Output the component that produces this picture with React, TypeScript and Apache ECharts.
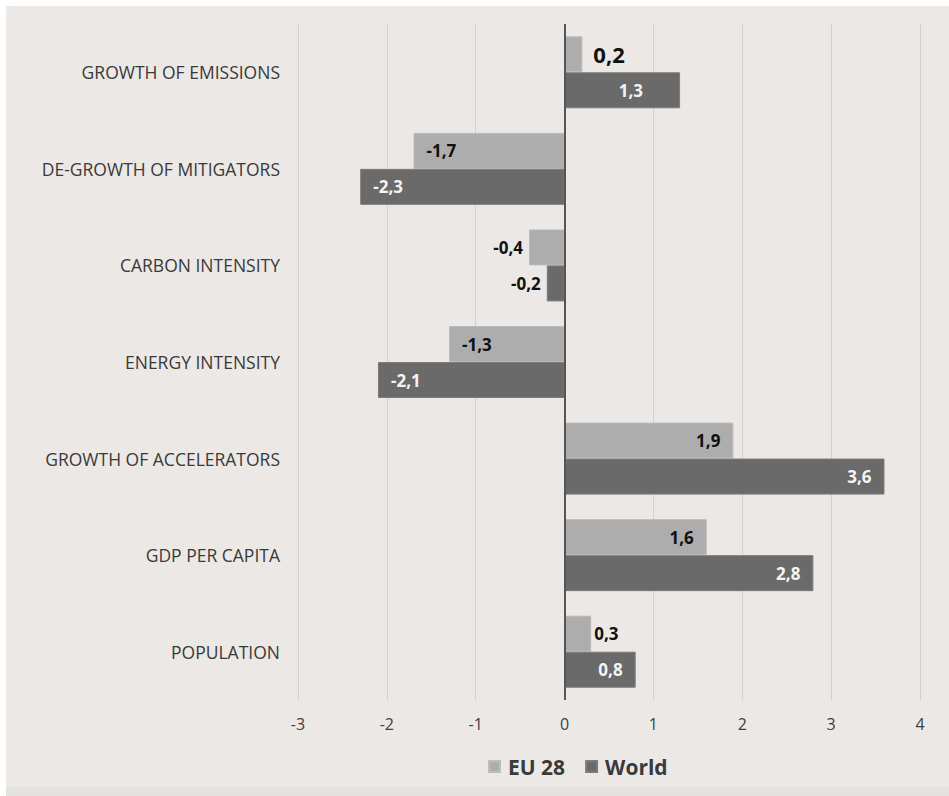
import React, { useEffect, useRef } from "react";
import * as echarts from "echarts";

const categories = [
  "GROWTH OF EMISSIONS",
  "DE-GROWTH OF MITIGATORS",
  "CARBON INTENSITY",
  "ENERGY INTENSITY",
  "GROWTH OF ACCELERATORS",
  "GDP PER CAPITA",
  "POPULATION",
];
const eu28 = [0.2, -1.7, -0.4, -1.3, 1.9, 1.6, 0.3];
const world = [1.3, -2.3, -0.2, -2.1, 3.6, 2.8, 0.8];
const seriesNames = ["EU 28", "World"];

const EU_COLOR = "#adadad";
const WORLD_COLOR = "#6a6a6a";
const FONT = "'Open Sans', sans-serif";

const fmt = (v: number) => String(v).replace(".", ",");

function buildData(values: number[], insideColor: string, isEU: boolean) {
  return values.map((v, i) => {
    const inside = Math.abs(v) >= 0.6;
    const neg = v < 0;
    const position = inside ? (neg ? "insideLeft" : "insideRight") : neg ? "left" : "right";
    let distance = inside ? 13 : 6;
    let fontSize = 17;
    if (isEU && i === 0) {
      fontSize = 22;
      distance = 11;
    }
    if (!isEU && i === 0) distance = 37;
    if (!inside && !neg && isEU && i !== 0) distance = 3;
    return {
      value: v,
      label: {
        show: true,
        position,
        distance,
        fontSize,
        fontWeight: "bold",
        fontFamily: FONT,
        color: inside ? insideColor : "#111111",
        formatter: (p: any) => fmt(p.value),
      },
    };
  });
}

export default function App() {
  const ref = useRef<HTMLDivElement>(null);
  useEffect(() => {
    if (!ref.current) return;
    const chart = echarts.init(ref.current, undefined, { renderer: "svg" });
    chart.setOption({
      animation: false,
      textStyle: { fontFamily: FONT },
      grid: { left: 298, right: 29, top: 24, bottom: 96, containLabel: false },
      legend: {
        top: 751,
        left: 483,
        icon: "rect",
        itemWidth: 11,
        itemHeight: 11,
        itemGap: 20,
        textStyle: {
          fontSize: 21,
          fontWeight: "bold",
          color: "#3a3a3a",
          fontFamily: FONT,
          padding: [0, 0, 0, 3],
        },
        data: seriesNames,
      },
      xAxis: {
        type: "value",
        min: -3,
        max: 4,
        interval: 1,
        axisLine: { show: false },
        axisTick: { show: false },
        splitLine: { show: true, lineStyle: { color: "#d3d1cf", width: 1 } },
        axisLabel: { color: "#404040", fontSize: 16, margin: 16, fontFamily: FONT },
      },
      yAxis: {
        type: "category",
        inverse: true,
        data: categories,
        axisLine: { show: false },
        axisTick: { show: false },
        splitLine: { show: false },
        axisLabel: { color: "#3a3a3a", fontSize: 17.5, margin: 18, fontFamily: FONT },
      },
      series: [
        {
          name: seriesNames[0],
          type: "bar",
          data: buildData(eu28, "#111111", true),
          barWidth: 36,
          barGap: "0%",
          itemStyle: { color: EU_COLOR, borderColor: "#bcbcbc", borderWidth: 1 },
        },
        {
          name: seriesNames[1],
          type: "bar",
          data: buildData(world, "#f4f4f4", false),
          barWidth: 36,
          barGap: "0%",
          itemStyle: { color: WORLD_COLOR, borderColor: "#7c7c7c", borderWidth: 1 },
          markLine: {
            silent: true,
            symbol: ["none", "none"],
            label: { show: false },
            lineStyle: { color: "#555555", width: 2, type: "solid" },
            data: [{ xAxis: 0 }],
          },
        },
      ],
    });
    return () => chart.dispose();
  }, []);

  return (
    <div style={{ position: "absolute", left: 0, top: 0, width: 949, height: 796, background: "#ffffff" }}>
      <div style={{ position: "absolute", left: 6, top: 6, width: 943, height: 781, background: "#ebe8e5" }} />
      <div style={{ position: "absolute", left: 6, top: 787, width: 943, height: 9, background: "#e3e2df" }} />
      <div ref={ref} style={{ position: "absolute", left: 0, top: 0, width: 949, height: 796 }} />
    </div>
  );
}
